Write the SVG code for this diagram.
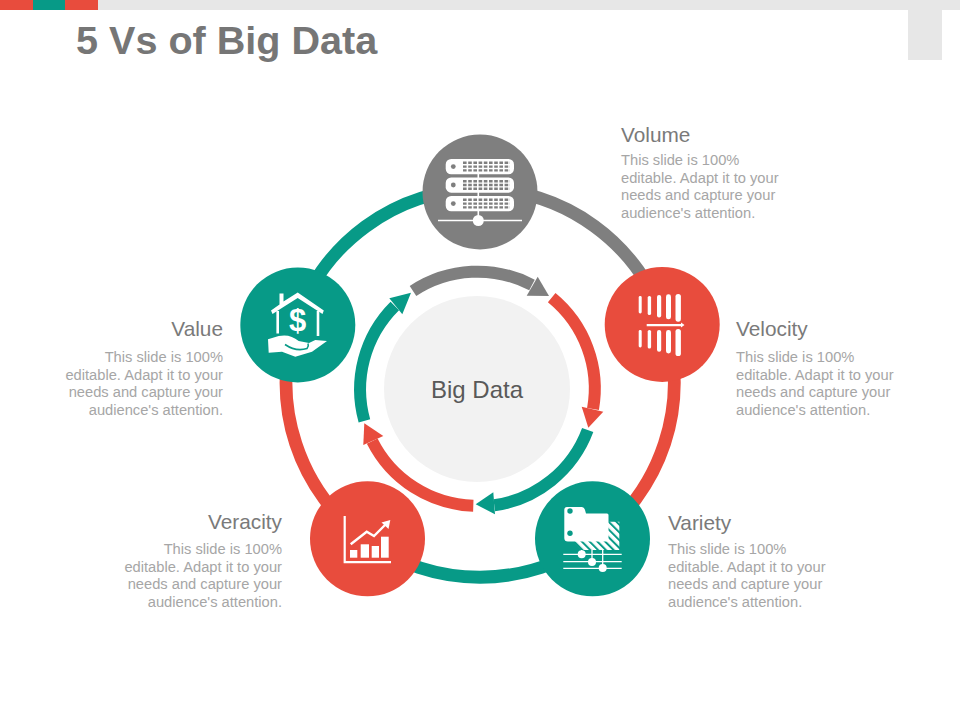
<svg xmlns="http://www.w3.org/2000/svg" width="960" height="720" viewBox="0 0 960 720">
<style>
text{font-family:"Liberation Sans",Arial,sans-serif}
.title{font-size:39.6px;font-weight:700;fill:#767676}
.h{font-size:20.8px;fill:#7a7a7a}
.b{font-size:14.7px;fill:#a6a6a6}
.end{text-anchor:end}
.ring{fill:none;stroke-width:13}
.inner{fill:none;stroke-width:12}
.gray{stroke:#7f7f7f}.red{stroke:#e84c3d}.teal{stroke:#079a87}
.fgray{fill:#7f7f7f}.fred{fill:#e84c3d}.fteal{fill:#079a87}
.w{fill:#fff}
.wl{stroke:#fff;fill:none}
</style>
<defs>
<pattern id="hatch" width="5.5" height="5.5" patternUnits="userSpaceOnUse" patternTransform="rotate(-45)">
<rect width="5.5" height="5.5" fill="#fff"/><rect width="2" height="5.5" fill="#079a87"/>
</pattern>
<g id="rack">
<rect x="445.7" y="0" width="68.3" height="15.3" rx="5.5" fill="#fff"/>
<circle cx="453.3" cy="7.6" r="2.4" fill="#7f7f7f"/>
<path d="M463 3.8H510M463 7.6H510M463 11.4H510" stroke="#7f7f7f" stroke-width="2.4" stroke-dasharray="3.6 1.6" fill="none"/>
</g>
</defs>
<g id="header">
<rect x="0" y="0" width="960" height="10" fill="#e7e7e7"/>
<rect x="908" y="10" width="34" height="50" fill="#e7e7e7"/>
<rect x="0" y="0" width="33" height="10" fill="#e84c3d"/>
<rect x="33" y="0" width="32" height="10" fill="#079a87"/>
<rect x="65" y="0" width="33" height="10" fill="#e84c3d"/>
<text class="title" x="76" y="54">5 Vs of Big Data</text>
</g>
<g id="connectors">
<path class="ring gray" d="M480.2 189A194 194 0 0 1 664.9 323.6"/>
<path class="ring red" d="M664.9 323.6A194 194 0 0 1 593.6 540.4"/>
<path class="ring teal" d="M593.6 540.4A194 194 0 0 1 366.4 540.4"/>
<path class="ring red" d="M366.4 540.4A194 194 0 0 1 295.3 324.2"/>
<path class="ring teal" d="M295.3 324.2A194 194 0 0 1 480.2 189"/>
<path class="inner gray" d="M413 291A117.5 117.5 0 0 1 532 285"/>
<polygon class="fgray" points="537.7,276.7 549,296 526.7,295.7"/>
<path class="inner red" d="M551.7 297.7A117.5 117.5 0 0 1 593 409"/>
<polygon class="fred" points="603.3,411.7 588.3,427.7 581.7,406.7"/>
<path class="inner teal" d="M587.7 430A117.5 117.5 0 0 1 494.3 505.3"/>
<polygon class="fteal" points="495,514.3 475.7,504.3 493.3,492.3"/>
<path class="inner red" d="M473.3 505.7A117.5 117.5 0 0 1 372.2 441.1"/>
<polygon class="fred" points="363.3,445 364.3,423.3 383.3,436"/>
<path class="inner teal" d="M364.4 420.9A117.5 117.5 0 0 1 394.8 306"/>
<polygon class="fteal" points="389.3,298.3 411,292.7 402.3,314.3"/>
</g>
<g id="center">
<circle cx="477" cy="389" r="93" fill="#f2f2f2"/>
<text x="477" y="398" font-size="24" fill="#595959" text-anchor="middle">Big Data</text>
</g>
<g id="volume">
<circle class="fgray" cx="480" cy="192" r="57.5"/>
<path class="wl" stroke-width="1.6" d="M478.3 170V220M438 220.5H522"/>
<use href="#rack" y="159"/><use href="#rack" y="177.4"/><use href="#rack" y="196"/>
<circle class="w" cx="478.3" cy="220.5" r="5.5"/>
<text class="h" x="621" y="142">Volume</text>
<text class="b" x="621" y="165">This slide is 100%</text>
<text class="b" x="621" y="183">editable. Adapt it to your</text>
<text class="b" x="621" y="200">needs and capture your</text>
<text class="b" x="621" y="218">audience's attention.</text>
</g>
<g id="velocity">
<circle class="fred" cx="662.2" cy="324.5" r="57.5"/>
<g class="w">
<rect x="638.7" y="296" width="3" height="17.5" rx="1.4"/>
<rect x="647.7" y="296" width="3.4" height="19" rx="1.6"/>
<rect x="657" y="295" width="4.2" height="22.5" rx="2"/>
<rect x="666" y="294.3" width="5" height="25" rx="2.4"/>
<rect x="675.5" y="294" width="5.4" height="27.7" rx="2.6"/>
<rect x="638.7" y="330" width="3" height="17.5" rx="1.4"/>
<rect x="647.7" y="330" width="3.4" height="18.5" rx="1.6"/>
<rect x="657" y="330" width="4.2" height="21.7" rx="2"/>
<rect x="666" y="330" width="5" height="23.5" rx="2.4"/>
<rect x="675.5" y="329" width="5.4" height="27" rx="2.6"/>
<polygon points="646.7,324 681,324 681,322.5 684.5,325 681,327.5 681,326.2 646.7,326.2"/>
</g>
<text class="h" x="736" y="336">Velocity</text>
<text class="b" x="736" y="362">This slide is 100%</text>
<text class="b" x="736" y="380">editable. Adapt it to your</text>
<text class="b" x="736" y="397">needs and capture your</text>
<text class="b" x="736" y="415">audience's attention.</text>
</g>
<g id="variety">
<circle class="fteal" cx="592.5" cy="538.8" r="57.5"/>
<polygon points="606,521.7 619.3,521.7 619.3,550 581.7,550 575,543.3 575,530" fill="url(#hatch)"/>
<path class="w" d="M567 507H581.5Q584 507 585 510L586 513.5H607Q608.5 513.5 608.5 515V541.5H568Q564.3 541.5 564.3 538V510Q564.3 507 567 507Z"/>
<circle class="fteal" cx="570" cy="511" r="2.7"/>
<circle class="fteal" cx="570" cy="533.3" r="2.7"/>
<path class="wl" stroke-width="1.3" d="M563.3 554.3H621.7M563.3 561.7H621.7M563.3 568.3H621.7M581.7 550V554M592 550V561.7M602.7 550V568.3"/>
<circle class="w" cx="581.7" cy="554.3" r="4"/>
<circle class="w" cx="592" cy="562" r="4"/>
<circle class="w" cx="602.7" cy="568" r="4"/>
<text class="h" x="668" y="530">Variety</text>
<text class="b" x="668" y="554">This slide is 100%</text>
<text class="b" x="668" y="572">editable. Adapt it to your</text>
<text class="b" x="668" y="589">needs and capture your</text>
<text class="b" x="668" y="607">audience's attention.</text>
</g>
<g id="veracity">
<circle class="fred" cx="367.5" cy="538.8" r="57.5"/>
<path class="wl" stroke-width="2.2" d="M344.7 516V562.2H391"/>
<g class="w">
<rect x="350" y="550" width="7.3" height="7.7"/>
<rect x="360.7" y="544.3" width="8.3" height="13.4"/>
<rect x="371.7" y="546" width="7.3" height="11.7"/>
<rect x="381" y="536.7" width="7.7" height="21"/>
<polygon points="390.3,520 388.5,529 381.5,522.5"/>
</g>
<path class="wl" stroke-width="2.4" d="M350.7 544.3L366.7 531.7L374 536L385.5 524.5"/>
<text class="h end" x="282" y="529">Veracity</text>
<text class="b end" x="282" y="554">This slide is 100%</text>
<text class="b end" x="282" y="572">editable. Adapt it to your</text>
<text class="b end" x="282" y="589">needs and capture your</text>
<text class="b end" x="282" y="607">audience's attention.</text>
</g>
<g id="value">
<circle class="fteal" cx="297.8" cy="325" r="57.5"/>
<path class="w" d="M297.7 292.5L323.8 310.5L322.5 314L297.7 298L285 306L272.5 314L271 310.5L279.5 304.5V293.5H283.5V301.5Z"/>
<path class="wl" stroke-width="2.6" d="M277.7 311V333.5M318 311V336"/>
<text x="297.7" y="331" font-size="31" font-weight="700" fill="#fff" text-anchor="middle">$</text>
<path class="w" d="M268 339.3L278.7 336Q290 333.5 298.7 341L309 343L315.3 340L327 341L312 351.7L295.3 356.7L282 351.7L268.7 352.7Z"/>
<path d="M285 344.5Q296 352 307 348.5Q309 346 308 343.5" fill="none" stroke="#079a87" stroke-width="1.6"/>
<text class="h end" x="223" y="336">Value</text>
<text class="b end" x="223" y="362">This slide is 100%</text>
<text class="b end" x="223" y="380">editable. Adapt it to your</text>
<text class="b end" x="223" y="397">needs and capture your</text>
<text class="b end" x="223" y="415">audience's attention.</text>
</g>
</svg>
